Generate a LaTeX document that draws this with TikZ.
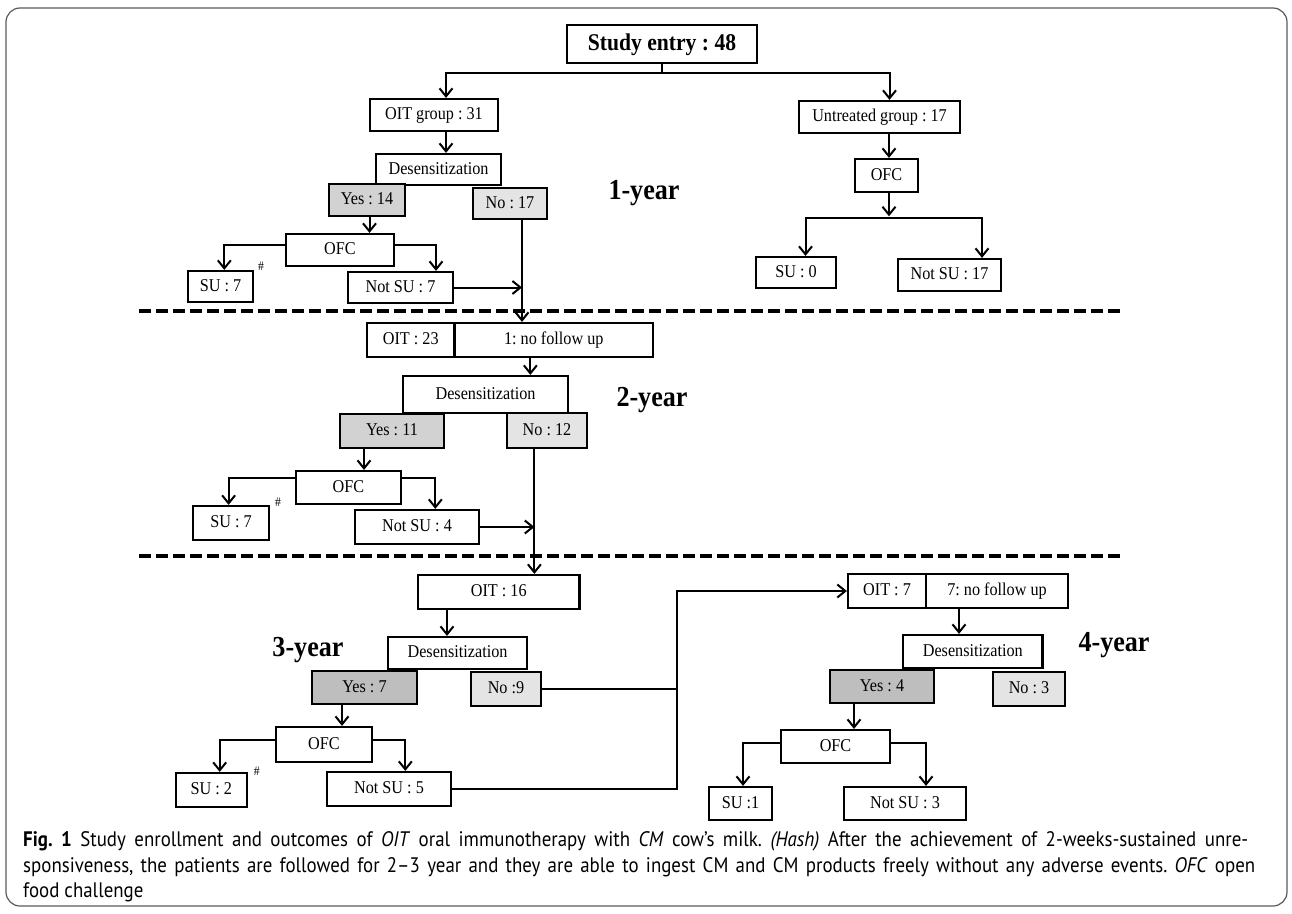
\documentclass[tikz,border=0pt]{standalone}
\usepackage{fontspec}
\setmainfont{Liberation Serif}[FakeStretch=0.9]
\newfontfamily\capfont{PT Sans}[FakeStretch=0.9]
\usetikzlibrary{arrows.meta}
\definecolor{yesAc}{RGB}{210,210,210}
\definecolor{yesBc}{RGB}{190,190,190}
\definecolor{noc}{RGB}{228,228,228}
\definecolor{framec}{RGB}{90,90,90}
\newcommand\capfontsel{\capfont\fontsize{21}{24}\selectfont}
\newlength\capSum \newlength\capTmp \newlength\capGap \newlength\capX
\newcount\capN \newcount\capK
% measure: #1 id, #2 x start, #3 target width (0pt = natural), #4 words
\newcommand\capprep[4]{%
  \global\capSum=0pt \global\capN=0
  \foreach \w in {#4}{%
    \settowidth{\capTmp}{\capfontsel\w}%
    \global\advance\capSum by \capTmp
    \global\advance\capN by 1
    \expandafter\xdef\csname capw#1-\the\capN\endcsname{\expandafter\unexpanded\expandafter{\w}}%
    \expandafter\xdef\csname capwd#1-\the\capN\endcsname{\the\capTmp}%
  }%
  \ifdim#3=0pt
    {\capfontsel\global\capGap=\fontdimen2\font}%
  \else
    \global\capGap=#3\relax
    \global\advance\capGap by -\capSum
    \global\divide\capGap by \numexpr\capN-1\relax
  \fi
  \capK=1 \capX=#2pt
  \loop\ifnum\capK<\numexpr\capN+1\relax
    \expandafter\xdef\csname capx#1-\the\capK\endcsname{\the\capX}%
    \advance\capX by \csname capwd#1-\the\capK\endcsname\relax
    \advance\capX by \capGap
    \advance\capK by 1
  \repeat
  \expandafter\xdef\csname capn#1\endcsname{\the\capN}%
  \expandafter\xdef\csname capsum#1\endcsname{\the\capSum}%
}
% draw: #1 id, #2 baseline y, #3 fallback line
\newcommand\capdraw[3]{%
  \ifdim\csname capsum#1\endcsname<50pt
    \node[capw] (cw#1) at (23,#2) {#3};
  \else
    \capK=\csname capn#1\endcsname\relax
    \loop\ifnum\capK>0
      \edef\curname{cw#1-\the\capK}%
      \expandafter\let\expandafter\curword\csname capw#1-\the\capK\endcsname
      \pgfmathsetmacro\curx{\csname capx#1-\the\capK\endcsname}%
      \node[capw] (\curname) at (\curx,#2) {\curword};
      \advance\capK by -1
    \repeat
  \fi
}
\tikzset{
  bx/.style={draw, line width=2.2pt, inner sep=0pt, fill=white,
    font=\fontsize{18}{20}\selectfont, text height=12pt, text depth=3pt},
  yesa/.style={bx, fill=yesAc},
  yesb/.style={bx, fill=yesBc},
  nob/.style={bx, fill=noc},
  conn/.style={line width=2pt},
  arr/.style={line width=2pt, -{Straight Barb[length=8pt,width=13pt,line width=2pt]}},
  yr/.style={font=\bfseries\fontsize{29}{32}\selectfont, inner sep=0pt},
  hashm/.style={font=\fontsize{13}{14}\selectfont, inner sep=0pt},
  sepline/.style={line width=3.5pt, dash pattern=on 12pt off 5pt},
  capw/.style={anchor=base west, inner sep=0pt, font=\capfontsel},
}
\begin{document}
\frenchspacing
\capprep{a}{23}{1225pt}{{\textbf{Fig.}},{\textbf{1}},Study,enrollment,and,outcomes,of,{\textit{OIT}},oral,immunotherapy,with,{\textit{CM}},cow’s,milk.,{\textit{(Hash)}},After,the,achievement,of,2-weeks-sustained,unre-}%
\capprep{b}{23}{1232pt}{{sponsiveness,},the,patients,are,followed,for,2–3,year,and,they,are,able,to,ingest,CM,and,CM,products,freely,without,any,adverse,events.,{\textit{OFC}},open}%
\capprep{c}{23}{0pt}{food,challenge}%
\begin{tikzpicture}[x=1pt,y=-1pt]
\useasboundingbox (0,0) rectangle (1292,913);
\draw[line width=1.2pt, framec, rounded corners=14pt] (6,8) rectangle (1287,906);

% dashed separators
\draw[sepline] (139,311) -- (1120,311);
\draw[sepline] (139,556) -- (1120,556);

% ---------- Year 1 ----------
\node[bx, minimum width=190pt, minimum height=38pt, font=\bfseries\fontsize{24}{26}\selectfont, text height=16pt, text depth=4pt] (entry) at (662,44) {Study entry : 48};
\node[bx, minimum width=128pt, minimum height=32pt] (oitg) at (434,115) {OIT group : 31};
\node[bx, minimum width=125pt, minimum height=31pt] (des1) at (438.5,169.5) {Desensitization};
\node[yesa, minimum width=76pt, minimum height=32pt] (yes1) at (367,200) {Yes : 14};
\node[nob, minimum width=74pt, minimum height=31pt] (no1) at (510,203.5) {No : 17};
\node[bx, minimum width=108pt, minimum height=32pt] (ofc1) at (340,250) {OFC};
\node[bx, minimum width=65pt, minimum height=31pt] (su1) at (220.5,286.5) {SU : 7};
\node[bx, minimum width=105pt, minimum height=31pt] (notsu1) at (400.5,287.5) {Not SU : 7};
\node[hashm] (h1) at (261,266.7) {\#};

\node[bx, minimum width=161pt, minimum height=32pt] (untr) at (879.5,117) {Untreated group : 17};
\node[bx, minimum width=63pt, minimum height=33pt] (ofcU) at (886.5,175.5) {OFC};
\node[bx, minimum width=80pt, minimum height=31pt] (su0) at (796,272.5) {SU : 0};
\node[bx, minimum width=103pt, minimum height=32pt] (notsu17) at (949.5,275) {Not SU : 17};

\node[yr] (y1) at (644,193) {1-year};

\coordinate (k1) at (446,73.3);
\coordinate (k2) at (889.5,73.3);
\draw[conn] (entry.south) -- (entry.south |- k1);
\draw[arr] (entry.south |- k1) -| (oitg.north -| k1);
\draw[arr] (entry.south |- k1) -| (untr.north -| k2);
\draw[arr] ([xshift=12pt]oitg.south) -- ([xshift=12pt]oitg.south |- des1.north);
\draw[arr] ([xshift=2.5pt]yes1.south) -- ([xshift=2.5pt]yes1.south |- ofc1.north);
\draw[arr] ([yshift=5pt]ofc1.west) -| ([xshift=3.8pt]su1.north);
\draw[arr] ([yshift=5pt]ofc1.east) -| ([xshift=35.5pt]notsu1.north);
\coordinate (v1) at (522,0);
\draw[arr] (notsu1.east) -- (notsu1.east -| v1);

\coordinate (u) at (889,0);
\coordinate (ub) at (889,218.3);
\draw[arr] (untr.south -| u) -- (ofcU.north -| u);
\draw[arr] (ofcU.south -| u) -- ([yshift=2pt]ub);
\draw[arr] (ub) -| ([xshift=9.5pt]su0.north);
\draw[arr] (ub) -| ([xshift=32.5pt]notsu17.north);

% ---------- Year 2 ----------
\node[bx, minimum width=87.5pt, minimum height=34pt] (oit23a) at (410.75,340) {OIT : 23};
\node[bx, minimum width=198.5pt, minimum height=34pt] (oit23b) at (553.75,340) {1: no follow up};
\draw[arr] (no1.south -| v1) -- (oit23b.north -| v1);
\node[bx, minimum width=165pt, minimum height=37pt] (des2) at (485.5,394.5) {Desensitization};
\node[yesa, minimum width=104pt, minimum height=34pt] (yes2) at (392,431) {Yes : 11};
\node[nob, minimum width=80.5pt, minimum height=35pt] (no2) at (547,430.5) {No : 12};
\node[bx, minimum width=105pt, minimum height=33pt] (ofc2) at (348.5,487.5) {OFC};
\node[bx, minimum width=76pt, minimum height=34pt] (su2) at (231,523) {SU : 7};
\node[bx, minimum width=124pt, minimum height=34pt] (notsu2) at (417,527) {Not SU : 4};
\node[hashm] (h2) at (278,502.7) {\#};
\node[yr] (y2) at (652,400) {2-year};

\draw[arr] ([xshift=-23.4pt]oit23b.south) -- ([xshift=-23.4pt]oit23b.south |- des2.north);
\draw[arr] ([xshift=-28pt]yes2.south) -- ([xshift=-28pt]yes2.south |- ofc2.north);
\draw[arr] ([yshift=9.2pt]ofc2.west) -| ([xshift=-2.4pt]su2.north);
\draw[arr] ([yshift=9.2pt]ofc2.east) -| ([xshift=18.3pt]notsu2.north);
\coordinate (v2) at (534.4,0);
\draw[arr] (notsu2.east) -- (notsu2.east -| v2);

% ---------- Year 3 ----------
\node[bx, minimum width=161.5pt, minimum height=34pt] (oit16) at (498.75,592) {OIT : 16};
\draw[arr] (no2.south -| v2) -- (oit16.north -| v2);
\node[bx, minimum width=139pt, minimum height=32pt] (des3) at (457.5,653) {Desensitization};
\node[yesb, minimum width=105pt, minimum height=33pt] (yes3) at (364.5,687.5) {Yes : 7};
\node[nob, minimum width=70pt, minimum height=34pt] (no3) at (506,689) {No :9};
\node[bx, minimum width=96.5pt, minimum height=35pt] (ofc3) at (324,744.5) {OFC};
\node[bx, minimum width=70.6pt, minimum height=34pt] (su3) at (211.3,790) {SU : 2};
\node[bx, minimum width=124pt, minimum height=34pt] (notsu3) at (389,789) {Not SU : 5};
\node[hashm] (h3) at (256.7,771.7) {\#};
\node[yr] (y3) at (308,650) {3-year};

\draw[arr] ([xshift=-51.75pt]oit16.south) -- ([xshift=-51.75pt]oit16.south |- des3.north);
\draw[arr] ([xshift=-22.5pt]yes3.south) -- ([xshift=-22.5pt]yes3.south |- ofc3.north);
\draw[arr] ([yshift=4.5pt]ofc3.west) -| ([xshift=8.4pt]su3.north);
\draw[arr] ([yshift=4.5pt]ofc3.east) -| ([xshift=16.3pt]notsu3.north);

% ---------- Year 4 ----------
\node[bx, minimum width=78pt, minimum height=34pt] (oit7a) at (887,591) {OIT : 7};
\node[bx, minimum width=142pt, minimum height=34pt] (oit7b) at (997,591) {7: no follow up};
\node[bx, minimum width=139.5pt, minimum height=33pt] (des4) at (972.75,651.5) {Desensitization};
\node[yesb, minimum width=104pt, minimum height=33pt] (yes4) at (882,686.5) {Yes : 4};
\node[nob, minimum width=72pt, minimum height=34pt] (no4) at (1029,689) {No : 3};
\node[bx, minimum width=109pt, minimum height=33pt] (ofc4) at (835.5,746.5) {OFC};
\node[bx, minimum width=63pt, minimum height=33pt] (su4) at (740.5,803.5) {SU :1};
\node[bx, minimum width=122pt, minimum height=33pt] (notsu4) at (905,803.5) {Not SU : 3};
\node[yr] (y4) at (1114,645) {4-year};

\coordinate (v3) at (676.6,0);
\draw[conn] (no3.east) -- (no3.east -| v3);
\draw[arr] (notsu3.east) -- (notsu3.east -| v3) -- (oit7a.west -| v3) -- (oit7a.west);
\draw[arr] ([xshift=-38pt]oit7b.south) -- ([xshift=-38pt]oit7b.south |- des4.north);
\draw[arr] ([xshift=-28pt]yes4.south) -- ([xshift=-28pt]yes4.south |- ofc4.north);
\draw[arr] ([yshift=3.2pt]ofc4.west) -| ([xshift=2.5pt]su4.north);
\draw[arr] ([yshift=3.2pt]ofc4.east) -| ([xshift=21pt]notsu4.north);

% ---------- Caption ----------
\capdraw{a}{846}{\makebox[1225pt][s]{\textbf{Fig.~1}\hspace{0.5em}Study enrollment and outcomes of \textit{OIT} oral immunotherapy with \textit{CM} cow’s milk. \textit{(Hash)} After the achievement of 2-weeks-sustained unre-}}
\capdraw{b}{872}{\makebox[1232pt][s]{sponsiveness, the patients are followed for 2–3 year and they are able to ingest CM and CM products freely without any adverse events. \textit{OFC} open}}
\capdraw{c}{897}{food challenge}
\end{tikzpicture}
\end{document}
